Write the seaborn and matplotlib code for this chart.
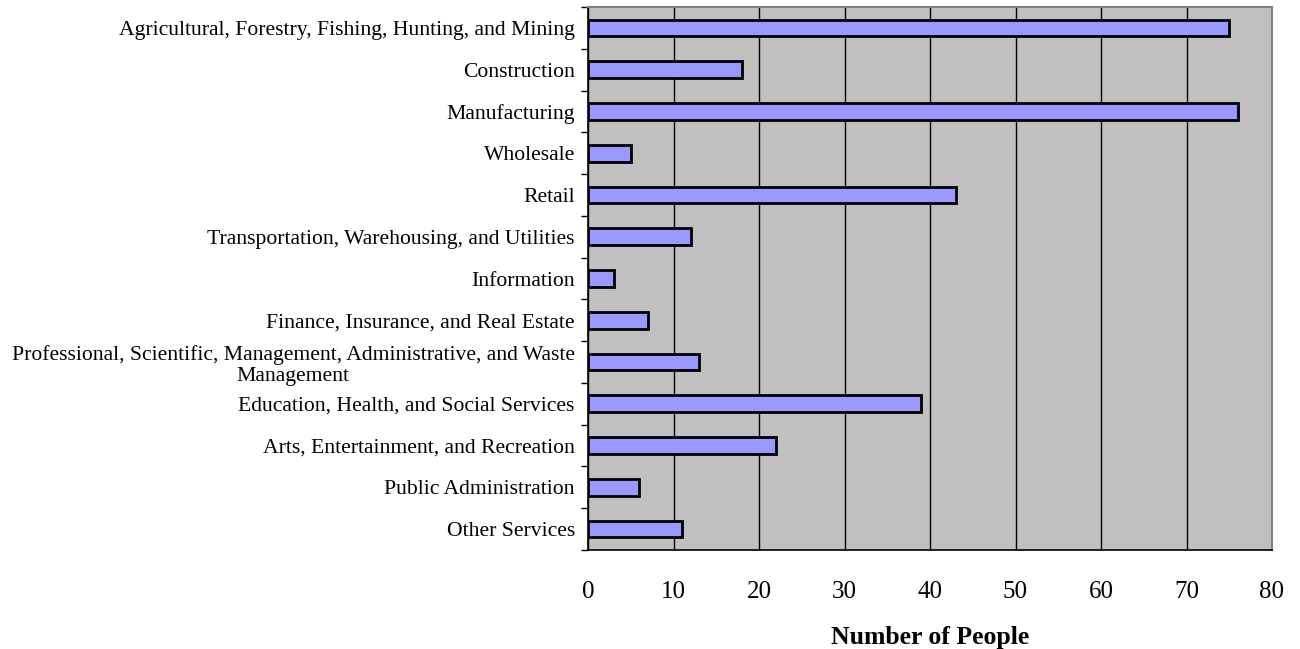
import matplotlib
matplotlib.use("Agg")
import matplotlib.pyplot as plt
import seaborn as sns
import pandas as pd
import numpy as np

categories = [
    "Agricultural, Forestry, Fishing, Hunting, and Mining",
    "Construction",
    "Manufacturing",
    "Wholesale",
    "Retail",
    "Transportation, Warehousing, and Utilities",
    "Information",
    "Finance, Insurance, and Real Estate",
    "Professional, Scientific, Management, Administrative, and Waste\nManagement",
    "Education, Health, and Social Services",
    "Arts, Entertainment, and Recreation",
    "Public Administration",
    "Other Services",
]
values = [75, 18, 76, 5, 43, 12, 3, 7, 13, 39, 22, 6, 11]
x_ticks = [0, 10, 20, 30, 40, 50, 60, 70, 80]

df = pd.DataFrame({"Industry": categories, "People": values})

sns.set_theme(style="white")
plt.rcParams['font.family'] = ['Liberation Serif', 'DejaVu Serif']
plt.rcParams['text.color'] = 'black'
plt.rcParams['xtick.color'] = 'black'
plt.rcParams['ytick.color'] = 'black'
plt.rcParams['axes.labelcolor'] = 'black'

fig = plt.figure(figsize=(13, 6.49), dpi=100)
ax = fig.add_axes([588/1300, 1 - 550/649, (1272-588)/1300, (550-7)/649])
ax.set_facecolor("#C0C0C0")

sns.barplot(data=df, x="People", y="Industry", orient="h", color="#9999FF",
            saturation=1, width=0.4, edgecolor="black", linewidth=2, ax=ax, zorder=3)

ax.set_xlim(0, 80)
ax.set_ylim(len(categories) - 0.5, -0.5)
ax.set_xticks(x_ticks)
ax.set_xticklabels([str(t) for t in x_ticks], fontsize=18)
ax.tick_params(axis="x", direction="out", length=6, width=1, color="black",
               labelcolor="black", pad=16)
ax.xaxis.grid(True, color="black", linewidth=1, zorder=1)
ax.set_axisbelow(True)

ax.set_yticks(range(len(categories)))
ax.set_yticklabels(categories, fontsize=15.6, multialignment="center",
                   linespacing=1.15, color="black")
ax.tick_params(axis="y", which="major", length=0, pad=9.5)
ax.set_yticks(np.arange(-0.5, len(categories)), minor=True)
ax.tick_params(axis="y", which="minor", direction="out", length=5, width=1, color="black", left=True)

ax.set_ylabel("")
ax.set_xlabel("Number of People", fontsize=18.5, fontweight="bold", labelpad=17, color="black")

for side in ["left", "bottom"]:
    ax.spines[side].set_color("black")
    ax.spines[side].set_linewidth(1.2)
for side in ["top", "right"]:
    ax.spines[side].set_color("#808080")
    ax.spines[side].set_linewidth(1.5)

fig.savefig("out.png", dpi=100)
